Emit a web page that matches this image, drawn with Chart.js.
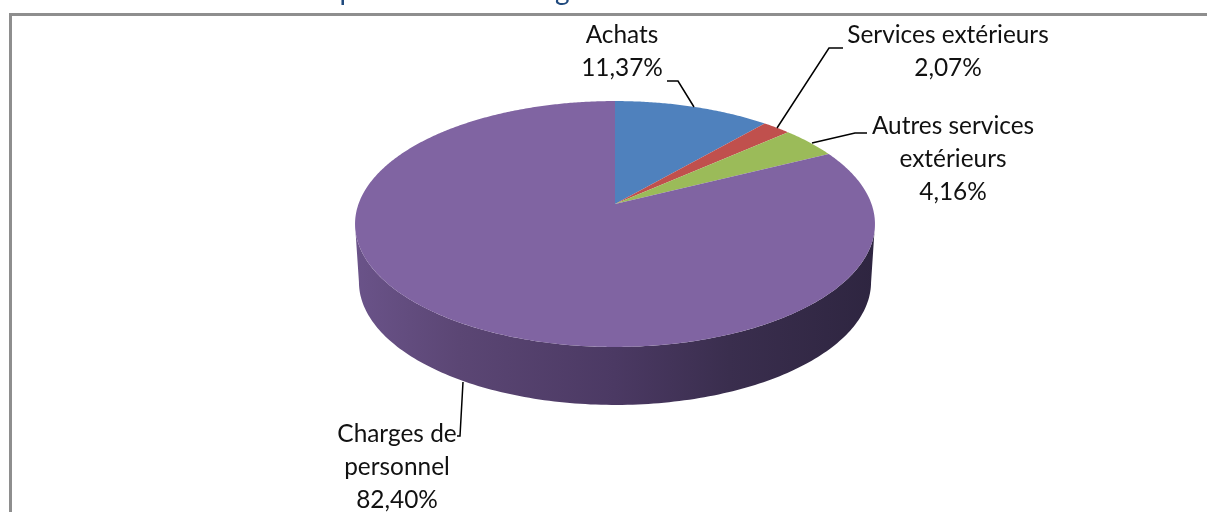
<!DOCTYPE html>
<html>
<head>
<meta charset="utf-8">
<title>Répartition des charges</title>
<style>
  html, body { margin: 0; padding: 0; background: #fff; }
  canvas { display: block; }
</style>
<script src="https://cdn.jsdelivr.net/npm/chart.js@4/dist/chart.umd.min.js"></script>
</head>
<body>
<canvas id="pieChart" width="1208" height="512"></canvas>
<script>
// Data
const categories = ['Achats', 'Services extérieurs', 'Autres services extérieurs', 'Charges de personnel'];
const percentages = [11.37, 2.07, 4.16, 82.40];
const sliceColors = ['#4f81bd', '#c0504d', '#9bbb59', '#8064a2'];
const chartTitle = 'Répartition des charges';

// Where each label goes: wrapped lines, centre x, first baseline, leader line
const labelLayout = [
    { lines: ['Achats'], x: 622, y: 43, leader: [[667, 81], [678, 81], [694, 107]] },
    { lines: ['Services extérieurs'], x: 948, y: 43, leader: [[843, 48], [829, 48], [777, 128]] },
    { lines: ['Autres services', 'extérieurs'], x: 953, y: 134, leader: [[867, 133], [855, 133], [812, 143]] },
    { lines: ['Charges de', 'personnel'], x: 397, y: 442, leader: [[457, 436], [460, 436], [463, 382]] }
];

// Tilted disc: the apex sits above the ellipse centre, so the slices are projected
const disc = { cx: 615, cy: 204, a: 256.5, b: 119.7, p: 0.1626, depth: 58, bottomScale: 0.985 };

function project(angle) {
    const u = Math.cos(angle), v = Math.sin(angle);
    const w = 1 - disc.p * v;
    return [disc.cx + disc.a * u / w, disc.cy + disc.b * v / w];
}

const tiltedPie = {
    id: 'tiltedPie',
    beforeDraw(chart) {
        const ctx = chart.ctx;
        ctx.save();
        ctx.fillStyle = '#ffffff';
        ctx.fillRect(0, 0, chart.width, chart.height);
        // frame, only top and left are in the crop
        ctx.fillStyle = '#8e8e8e';
        ctx.fillRect(9, 13, 1198, 3);
        ctx.fillRect(9, 13, 3, 499);
        // title, cut by the top of the picture
        ctx.fillStyle = '#1f497d';
        ctx.font = '28px Lato';
        ctx.textAlign = 'left';
        ctx.textBaseline = 'alphabetic';
        ctx.fillText(chartTitle, 308, 0);
        ctx.restore();
    },
    beforeDatasetDraw(chart) {
        const ctx = chart.ctx;
        const arcs = chart.getDatasetMeta(0).data;
        const step = Math.PI / 180;

        // front wall, from the right silhouette round to the left one
        const start = Math.asin(disc.p), end = Math.PI - start;
        const wall = ctx.createLinearGradient(355, 0, 875, 0);
        wall.addColorStop(0, '#6a5389');
        wall.addColorStop(0.2, '#5b4674');
        wall.addColorStop(0.5, '#4b3963');
        wall.addColorStop(0.72, '#3a2e4e');
        wall.addColorStop(1, '#2e2540');
        ctx.save();
        ctx.beginPath();
        for (let t = start; t <= end; t += step) {
            const q = project(t);
            ctx.lineTo(q[0], q[1]);
        }
        for (let t = end; t >= start; t -= step) {
            const q = project(t);
            const x = disc.cx + (q[0] - disc.cx) * disc.bottomScale;
            ctx.lineTo(x, q[1] + disc.depth);
        }
        ctx.closePath();
        ctx.fillStyle = wall;
        ctx.fill();

        // top face, angles taken from the library's arc elements
        arcs.forEach(function(arc, i) {
            ctx.beginPath();
            ctx.moveTo(disc.cx, disc.cy);
            for (let t = arc.startAngle; t < arc.endAngle; t += step / 2) {
                const q = project(t);
                ctx.lineTo(q[0], q[1]);
            }
            const last = project(arc.endAngle);
            ctx.lineTo(last[0], last[1]);
            ctx.closePath();
            ctx.fillStyle = sliceColors[i];
            ctx.fill();
        });
        ctx.restore();
        return false;
    },
    afterDatasetsDraw(chart) {
        const ctx = chart.ctx;
        ctx.save();
        ctx.strokeStyle = '#000000';
        ctx.lineWidth = 1.5;
        ctx.fillStyle = '#111111';
        ctx.font = '24.4px Lato';
        ctx.textAlign = 'center';
        ctx.textBaseline = 'alphabetic';
        labelLayout.forEach(function(item, i) {
            ctx.beginPath();
            item.leader.forEach(function(pt) { ctx.lineTo(pt[0], pt[1]); });
            ctx.stroke();
            const text = item.lines.concat(percentages[i].toFixed(2).replace('.', ',') + '%');
            text.forEach(function(line, n) {
                ctx.fillText(line, item.x, item.y + n * 33);
            });
        });
        ctx.restore();
    }
};

document.addEventListener('DOMContentLoaded', function() {
    new Chart(document.getElementById('pieChart').getContext('2d'), {
        type: 'pie',
        data: {
            labels: categories,
            datasets: [{ data: percentages, backgroundColor: sliceColors, borderWidth: 0 }]
        },
        options: {
            responsive: false,
            animation: false,
            plugins: {
                legend: { display: false },
                tooltip: { enabled: false }
            }
        },
        plugins: [tiltedPie]
    });
});
</script>
</body>
</html>
